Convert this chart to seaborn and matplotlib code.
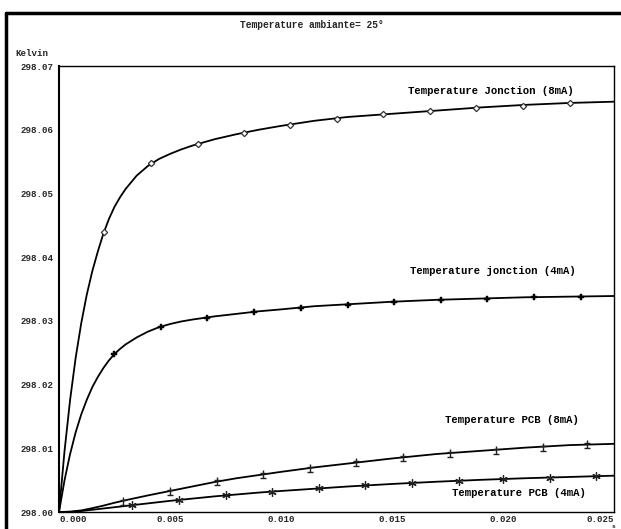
import numpy as np
import pandas as pd
import matplotlib
matplotlib.use("Agg")
import matplotlib.pyplot as plt
from matplotlib.path import Path
from matplotlib.lines import Line2D
from matplotlib.ticker import MultipleLocator
import seaborn as sns

# ---------------- data (time in ms, temperature rise in mK above 298 K) -------------
BASE_K = 298.0

t_curve = [0, 0.25, 0.5, 0.75, 1.0, 1.25, 1.5, 1.75, 2.0, 2.25, 2.5, 2.75, 3.0,
           3.5, 4.0, 4.5, 5.0, 5.5, 6.0, 7, 8, 9, 10, 11.5, 13, 15, 17, 19, 21, 23, 25]
jonction_8mA = [0, 9.6, 17.6, 24.2, 29.6, 34.1, 37.8, 40.9, 43.7, 46.0, 47.9, 49.4, 50.7,
                52.8, 54.3, 55.4, 56.2, 56.9, 57.5, 58.5, 59.3, 60.0, 60.6,
                61.4, 62.0, 62.5, 63.0, 63.5, 63.9, 64.2, 64.4]
jonction_4mA = [0, 5.0, 9.1, 12.5, 15.3, 17.6, 19.6, 21.2, 22.6, 23.8, 24.8, 25.6, 26.3,
                27.4, 28.3, 29.0, 29.5, 29.9, 30.2, 30.7, 31.1, 31.5, 31.8,
                32.3, 32.6, 33.0, 33.3, 33.5, 33.7, 33.8, 33.9]

t_pcb = [0, 0.5, 1.0, 1.5, 2.0, 2.5, 3.0, 4.0, 5.0, 6.0, 7.0, 8.0, 9.0, 10, 11.5,
         13, 15, 17, 19, 21, 23, 25]
pcb_8mA = [0, 0.05, 0.25, 0.6, 1.0, 1.45, 1.85, 2.6, 3.3, 4.0, 4.7, 5.3, 5.8, 6.3,
           7.0, 7.6, 8.4, 9.1, 9.6, 10.1, 10.5, 10.7]
pcb_4mA = [0, 0.03, 0.15, 0.35, 0.55, 0.75, 0.95, 1.35, 1.75, 2.1, 2.45, 2.75, 3.05,
           3.3, 3.65, 4.0, 4.4, 4.75, 5.05, 5.3, 5.5, 5.7]

# marker samples
mk_t_j8 = [2.03, 4.14, 6.26, 8.33, 10.4, 12.5, 14.6, 16.7, 18.8, 20.9, 23.0]
mk_v_j8 = [43.9, 54.7, 57.8, 59.5, 60.8, 61.7, 62.4, 63.0, 63.4, 63.8, 64.2]
mk_t_j4 = [2.48, 4.59, 6.67, 8.78, 10.9, 13.0, 15.1, 17.2, 19.3, 21.4, 23.5]
mk_v_j4 = [24.8, 29.1, 30.5, 31.4, 32.0, 32.5, 32.9, 33.2, 33.5, 33.7, 33.8]
mk_t_p8 = [2.88, 5.0, 7.1, 9.2, 11.3, 13.4, 15.5, 17.6, 19.7, 21.8, 23.8]
mk_v_p8 = [1.8, 3.3, 4.8, 5.9, 6.9, 7.8, 8.6, 9.25, 9.8, 10.25, 10.6]
mk_t_p4 = [3.29, 5.4, 7.5, 9.6, 11.7, 13.8, 15.9, 18.0, 20.0, 22.1, 24.2]
mk_v_p4 = [1.05, 1.9, 2.6, 3.2, 3.75, 4.2, 4.6, 4.9, 5.2, 5.4, 5.6]

labels = ["Temperature Jonction (8mA)", "Temperature jonction (4mA)",
          "Temperature PCB (8mA)", "Temperature PCB (4mA)"]
x_ticks = [0.000, 0.005, 0.010, 0.015, 0.020, 0.025]
y_ticks = [298.00, 298.01, 298.02, 298.03, 298.04, 298.05, 298.06, 298.07]
title = "Temperature ambiante= 25\u00b0"
y_unit = "Kelvin"
x_unit = "s"

# ---------------- style -------------------------------------------------------------
sns.set_style("white")
plt.rcParams["font.family"] = ["Liberation Mono", "DejaVu Sans Mono"]
plt.rcParams["font.weight"] = "bold"

fig = plt.figure(figsize=(6.21, 5.29), dpi=100)
ax = fig.add_axes([59 / 621, 1 - 512 / 529, 555 / 621, 446 / 529])


def to_s(ms):
    return np.asarray(ms, dtype=float) / 1000.0


def to_k(mk):
    return BASE_K + np.asarray(mk, dtype=float) / 1000.0


line_kw = dict(color="black", linewidth=1.3, sort=False, ax=ax, legend=False)
sns.lineplot(x=to_s(t_curve), y=to_k(jonction_8mA), **line_kw)
sns.lineplot(x=to_s(t_curve), y=to_k(jonction_4mA), **line_kw)
sns.lineplot(x=to_s(t_pcb), y=to_k(pcb_8mA), **line_kw)
sns.lineplot(x=to_s(t_pcb), y=to_k(pcb_4mA), **line_kw)

# markers
ax.plot(to_s(mk_t_j8), to_k(mk_v_j8), linestyle="none", marker="D", markersize=3.2,
        markerfacecolor="white", markeredgecolor="#333333", markeredgewidth=0.9)
ax.plot(to_s(mk_t_j4), to_k(mk_v_j4), linestyle="none", marker="P", markersize=5,
        markerfacecolor="black", markeredgecolor="black", markeredgewidth=0.3)
pm_path = Path([(0, -1), (0, 1), (-0.8, 0.15), (0.8, 0.15), (-0.8, -1), (0.8, -1)],
               [Path.MOVETO, Path.LINETO, Path.MOVETO, Path.LINETO, Path.MOVETO, Path.LINETO])
ax.plot(to_s(mk_t_p8), to_k(mk_v_p8), linestyle="none", marker=pm_path, markersize=6,
        fillstyle="none", markeredgecolor="#222222", markeredgewidth=1.0)
ax.plot(to_s(mk_t_p4), to_k(mk_v_p4), linestyle="none", marker=(6, 2, 0), markersize=6,
        markeredgecolor="#222222", markeredgewidth=0.9)

# curve labels
lab_pos = [(19.46, 66.1), (19.55, 37.8), (20.4, 14.4), (20.7, 3.0)]
for txt, (tx, ty) in zip(labels, lab_pos):
    ax.text(tx / 1000.0, BASE_K + ty / 1000.0, txt, ha="center", va="center",
            fontsize=7.7, fontweight="bold", color="black")

# axes
ax.set_xlim(0, 0.025)
ax.set_ylim(298.00, 298.07)
ax.set_xticks(x_ticks)
ax.set_xticklabels(["%.3f" % v for v in x_ticks], fontweight="bold")
ax.set_yticks(y_ticks)
ax.set_yticklabels(["%.2f" % v for v in y_ticks], fontweight="bold")
ax.xaxis.set_minor_locator(MultipleLocator(0.001))
ax.yaxis.set_minor_locator(MultipleLocator(0.001))
ax.tick_params(which="major", direction="in", length=7, width=1.6, color="#888888",
               labelsize=6.6, pad=4, top=False, right=False)
ax.tick_params(which="minor", direction="in", length=4.5, width=0.9, color="black",
               top=False, right=False)
ax.tick_params(axis="x", which="major", pad=2)
for s in ax.spines.values():
    s.set_color("black")
    s.set_linewidth(1.0)
ax.spines["left"].set_linewidth(1.5)
ax.set_xlabel("")
ax.set_ylabel("")

xt = ax.get_xticklabels()
xt[0].set_horizontalalignment("left")
xt[-1].set_horizontalalignment("right")

# figure texts
fig.text(312 / 621, 1 - 25 / 529, title, ha="center", va="center",
         fontsize=6.9, fontweight="bold")
fig.text(15 / 621, 1 - 54 / 529, y_unit, ha="left", va="center",
         fontsize=6.6, fontweight="bold")
fig.text(613 / 621, 0.0, x_unit, ha="center", va="bottom",
         fontsize=4.5, fontweight="bold")

# outer frame (top and left edges visible)
fig.add_artist(Line2D([6 / 621, 6 / 621], [-0.01, 1 - 13 / 529], transform=fig.transFigure,
                      color="black", linewidth=2.5))
fig.add_artist(Line2D([6 / 621, 1.01], [1 - 13 / 529, 1 - 13 / 529], transform=fig.transFigure,
                      color="black", linewidth=2.5))

fig.savefig("out.png", dpi=100)
